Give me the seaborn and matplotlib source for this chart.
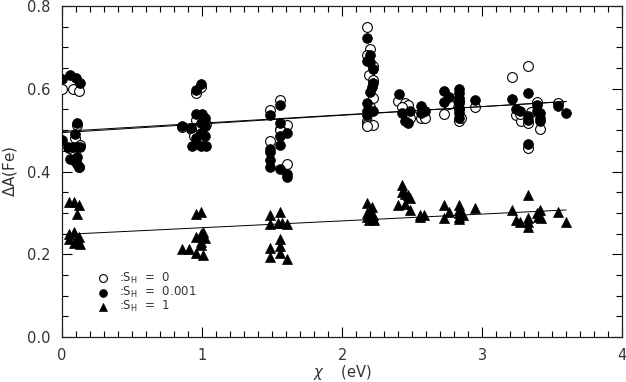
import numpy as np
import pandas as pd
import matplotlib
matplotlib.use('Agg')
import matplotlib.pyplot as plt
from matplotlib.ticker import MultipleLocator, FormatStrFormatter
import seaborn as sns

# --- data ---
# open circles, S_H = 0
chi_s0 = [0.0, 0.08, 0.12, 0.11, 0.09, 0.13, 0.05, 0.12, 0.09,
          0.86, 0.92, 0.96, 0.99, 1.02, 0.96, 0.94, 1.03, 0.98,
          1.557, 1.486, 1.607, 1.557, 1.486, 1.607, 1.557,
          2.18, 2.20, 2.18, 2.22, 2.19, 2.22, 2.22, 2.20, 2.18, 2.18, 2.22, 2.18,
          2.40, 2.45, 2.47, 2.486, 2.564, 2.593, 2.43,
          2.76, 2.73, 2.836, 2.836, 2.836, 2.95, 2.85,
          3.21, 3.33, 3.39, 3.24, 3.28, 3.33, 3.41, 3.33, 3.35, 3.54, 3.27]
dA_s0 = [0.60, 0.60, 0.595, 0.513, 0.48, 0.465, 0.457, 0.41, 0.425,
         0.507, 0.503, 0.59, 0.605, 0.51, 0.525, 0.485, 0.515, 0.47,
         0.573, 0.549, 0.513, 0.502, 0.475, 0.418, 0.50,
         0.75, 0.696, 0.682, 0.654, 0.633, 0.621, 0.578, 0.556, 0.523, 0.516, 0.513, 0.509,
         0.571, 0.566, 0.562, 0.53, 0.53, 0.53, 0.555,
         0.564, 0.54, 0.521, 0.55, 0.57, 0.556, 0.53,
         0.628, 0.654, 0.568, 0.537, 0.523, 0.518, 0.502, 0.456, 0.545, 0.565, 0.54]

# filled circles, S_H = 0.001
chi_s1 = [0.0, 0.06, 0.10, 0.13, 0.11, 0.09, 0.0, 0.04, 0.08, 0.11, 0.13, 0.06, 0.11, 0.11, 0.12,
          0.86, 0.92, 0.96, 0.99, 0.96, 1.0, 1.02, 0.99, 1.02, 0.99, 1.02, 0.96, 0.93, 0.99, 1.03,
          1.557, 1.486, 1.557, 1.607, 1.557, 1.557, 1.486, 1.486, 1.486, 1.486, 1.557, 1.607, 1.607,
          2.18, 2.20, 2.18, 2.20, 2.22, 2.22, 2.21, 2.20, 2.18, 2.18, 2.22, 2.18,
          2.407, 2.43, 2.45, 2.47, 2.486, 2.564, 2.593, 2.564,
          2.73, 2.76, 2.73, 2.836, 2.836, 2.836, 2.836, 2.836, 2.836, 2.836, 2.95,
          3.33, 3.21, 3.39, 3.54, 3.60, 3.24, 3.27, 3.33, 3.33, 3.41, 3.41, 3.41, 3.33, 3.39]
dA_s1 = [0.623, 0.633, 0.626, 0.614, 0.518, 0.49, 0.477, 0.46, 0.46, 0.46, 0.46, 0.43, 0.435, 0.418, 0.41,
         0.511, 0.506, 0.597, 0.612, 0.54, 0.54, 0.53, 0.518, 0.509, 0.494, 0.487, 0.48, 0.461, 0.461, 0.461,
         0.561, 0.537, 0.518, 0.492, 0.485, 0.463, 0.454, 0.448, 0.427, 0.41, 0.406, 0.394, 0.387,
         0.724, 0.682, 0.668, 0.666, 0.647, 0.614, 0.604, 0.592, 0.566, 0.547, 0.547, 0.537,
         0.588, 0.542, 0.523, 0.518, 0.547, 0.559, 0.547, 0.542,
         0.595, 0.58, 0.568, 0.599, 0.59, 0.578, 0.566, 0.554, 0.542, 0.53, 0.573,
         0.59, 0.576, 0.561, 0.559, 0.542, 0.552, 0.547, 0.535, 0.525, 0.542, 0.53, 0.523, 0.466, 0.547]

# triangles, S_H = 1
chi_s2 = [0.05, 0.085, 0.12, 0.11, 0.05, 0.085, 0.05, 0.10, 0.12, 0.085, 0.13,
          0.86, 0.91, 0.96, 0.96, 0.99, 0.96, 0.99, 1.01, 0.99, 0.99, 1.01, 1.02,
          1.486, 1.557, 1.486, 1.54, 1.57, 1.607, 1.557, 1.557, 1.486, 1.557, 1.486, 1.607,
          2.18, 2.18, 2.21, 2.22, 2.18, 2.22, 2.19, 2.23, 2.20,
          2.43, 2.43, 2.45, 2.47, 2.486, 2.40, 2.45, 2.486, 2.557, 2.586, 2.557,
          2.73, 2.76, 2.73, 2.836, 2.836, 2.836, 2.836, 2.836, 2.86, 2.95,
          3.21, 3.33, 3.24, 3.27, 3.33, 3.33, 3.39, 3.41, 3.40, 3.42, 3.54, 3.60, 3.33]
dA_s2 = [0.327, 0.327, 0.318, 0.298, 0.25, 0.253, 0.238, 0.232, 0.241, 0.227, 0.224,
         0.213, 0.213, 0.203, 0.298, 0.301, 0.241, 0.248, 0.253, 0.229, 0.222, 0.198, 0.239,
         0.294, 0.301, 0.272, 0.275, 0.275, 0.272, 0.236, 0.22, 0.215, 0.203, 0.193, 0.189,
         0.325, 0.30, 0.313, 0.296, 0.289, 0.287, 0.282, 0.282, 0.305,
         0.368, 0.351, 0.346, 0.343, 0.337, 0.32, 0.322, 0.306, 0.296, 0.296, 0.289,
         0.32, 0.303, 0.287, 0.32, 0.308, 0.299, 0.291, 0.284, 0.296, 0.311,
         0.308, 0.344, 0.282, 0.279, 0.287, 0.267, 0.299, 0.308, 0.291, 0.287, 0.301, 0.279, 0.279]

# linear fits drawn in the figure (intercept, slope), over chi in [0, 3.6]
fit_range = [0.0, 3.6]
fit_s0 = (0.497, 0.0200)
fit_s1 = (0.494, 0.0210)
fit_s2 = (0.2476, 0.0165)

labels = [r':S$_\mathrm{H}$  =  0', r':S$_\mathrm{H}$  =  0.001', r':S$_\mathrm{H}$  =  1']

# --- plot ---
sns.set_style('ticks')
plt.rcParams['font.family'] = ['DejaVu Sans']
txt = '#333333'

fig = plt.figure(figsize=(6.26, 3.82), dpi=100)
ax = fig.add_axes([0.099, 0.118, 0.895, 0.866])

df0 = pd.DataFrame({'chi': chi_s0, 'dA': dA_s0})
df1 = pd.DataFrame({'chi': chi_s1, 'dA': dA_s1})
df2 = pd.DataFrame({'chi': chi_s2, 'dA': dA_s2})

sns.scatterplot(data=df0, x='chi', y='dA', ax=ax, marker='o', s=50,
                facecolor='white', edgecolor='black', linewidth=0.8, label=labels[0], zorder=3)
sns.scatterplot(data=df1, x='chi', y='dA', ax=ax, marker='o', s=50,
                color='black', edgecolor='black', linewidth=0.5, label=labels[1], zorder=4)
sns.scatterplot(data=df2, x='chi', y='dA', ax=ax, marker='^', s=52,
                color='black', edgecolor='black', linewidth=0.5, label=labels[2], zorder=4)

xs = np.array(fit_range)
for b, m in (fit_s0, fit_s1, fit_s2):
    sns.lineplot(x=xs, y=b + m * xs, ax=ax, color='black', linewidth=0.7, zorder=5)

ax.set_xlim(0, 4)
ax.set_ylim(0, 0.8)
ax.xaxis.set_major_locator(MultipleLocator(1))
ax.xaxis.set_minor_locator(MultipleLocator(0.1))
ax.yaxis.set_major_locator(MultipleLocator(0.2))
ax.yaxis.set_minor_locator(MultipleLocator(0.05))
ax.xaxis.set_major_formatter(FormatStrFormatter('%d'))
ax.yaxis.set_major_formatter(FormatStrFormatter('%.1f'))
ax.tick_params(which='both', direction='in', top=True, right=True, colors='black',
               labelcolor=txt, labelsize=10.5, width=0.8)
ax.tick_params(which='major', length=7, pad=8)
ax.tick_params(which='minor', length=4)
for sp in ax.spines.values():
    sp.set_linewidth(0.9)
    sp.set_color('#222222')

ax.set_xlabel(r'$\chi$    (eV)', fontsize=10.5, color=txt)
ax.xaxis.set_label_coords(0.5, -0.078)
ax.set_ylabel(r'$\Delta$A(Fe)', fontsize=11, color=txt, labelpad=6)

leg = ax.legend(loc='lower left', bbox_to_anchor=(0.055, 0.055), frameon=False,
                fontsize=8.5, handletextpad=0.8, labelspacing=-0.08, borderaxespad=0,
                handlelength=1.0, markerscale=0.8)
for t in leg.get_texts():
    t.set_color(txt)

fig.savefig('out.png', dpi=100)
